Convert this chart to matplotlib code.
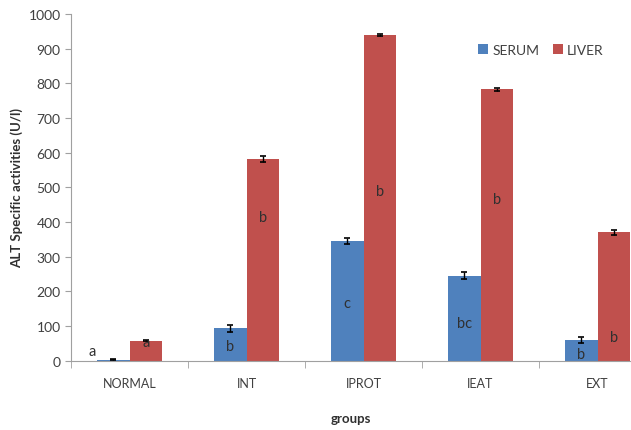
import matplotlib
matplotlib.use("Agg")
import matplotlib.pyplot as plt
import numpy as np

groups = ["NORMAL", "INT", "IPROT", "IEAT", "EXT"]
serum = [3, 93, 346, 245, 60]
serum_err = [2, 10, 9, 10, 8]
liver = [58, 582, 940, 783, 370]
liver_err = [2, 8, 3, 5, 8]
serum_letters = ["a", "b", "c", "bc", "b"]
liver_letters = ["a", "b", "b", "b", "b"]
serum_letter_y = [28, 42, 165, 108, 18]
liver_letter_y = [54, 415, 490, 465, 68]

plt.rcParams['font.family'] = ['Lato', 'DejaVu Sans']

fig = plt.figure(figsize=(6.31, 4.31), dpi=100)
ax = fig.add_axes([71/631, (431-361.7)/431, 1 - 71/631, (361.7-15)/431])

x = np.arange(len(groups))
w = 0.28
blue = "#4F81BD"
red = "#C0504D"
ax.bar(x - w/2, serum, w, color=blue, label="SERUM", zorder=2)
ax.bar(x + w/2, liver, w, color=red, label="LIVER", zorder=2)
ax.errorbar(x - w/2, serum, yerr=serum_err, fmt="none", ecolor="black",
            elinewidth=1, capsize=2.5, capthick=1.2, zorder=3)
ax.errorbar(x + w/2, liver, yerr=liver_err, fmt="none", ecolor="black",
            elinewidth=1, capsize=2.5, capthick=1.2, zorder=3)

for i in range(len(groups)):
    sx = x[i] - w/2
    if i == 0:
        sx = x[i] - w/2 - 0.18
    ax.text(sx, serum_letter_y[i], serum_letters[i], ha="center", va="center",
            fontsize=10.5, color="#303030", zorder=4)
    lx = x[i] + w/2
    ax.text(lx, liver_letter_y[i], liver_letters[i], ha="center", va="center",
            fontsize=10.5, color="#303030", zorder=4)

ax.set_yticks(range(0, 1001, 100))
ax.set_xticks(x)
ax.set_xticklabels(groups)
ax.set_xticks(np.arange(-0.5, 4.6, 1), minor=True)
ax.set_xlim(-0.5, -0.5 + 560/117)
ax.set_ylim(0, 1000)
ax.tick_params(axis="x", which="major", length=0, pad=12, labelsize=9, labelcolor="#404040")
ax.tick_params(axis="x", which="minor", length=5, color="#A0A0A0", direction="out")
ax.tick_params(axis="y", length=4, color="#A0A0A0", labelsize=10, labelcolor="#404040")

for s in ["top", "right"]:
    ax.spines[s].set_visible(False)
for s in ["left", "bottom"]:
    ax.spines[s].set_color("#A0A0A0")

ax.set_ylabel("ALT Specific activities (U/l)", fontsize=9.5, fontweight="bold", color="#303030", labelpad=4)
ax.set_xlabel("groups", fontsize=9.5, fontweight="bold", color="#303030", labelpad=16)

ax.legend(loc="upper left", bbox_to_anchor=(0.705, 0.95), ncol=2, frameon=False,
          fontsize=10, handlelength=0.7, handleheight=0.7, columnspacing=1.0,
          handletextpad=0.3, labelcolor="#404040")

fig.savefig("out.png", dpi=100)
